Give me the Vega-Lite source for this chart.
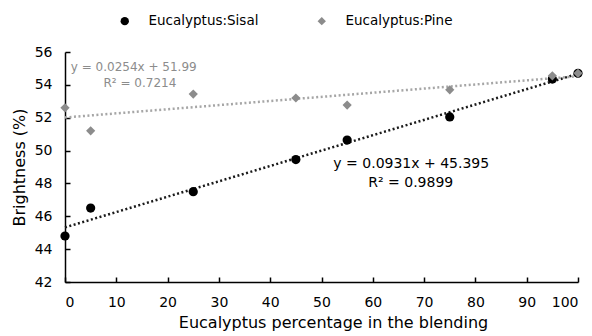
{
  "$schema": "https://vega.github.io/schema/vega-lite/v6.json",
  "width": 513,
  "height": 230,
  "autosize": "none",
  "padding": {"left": 65, "top": 52, "right": 14, "bottom": 54},
  "background": "white",
  "config": {
    "view": {"stroke": null},
    "font": "DejaVu Sans",
    "axis": {
      "grid": false,
      "domainColor": "#000000",
      "domainWidth": 1.5,
      "tickColor": "#000000",
      "tickSize": -5,
      "tickWidth": 1.5,
      "labelFont": "DejaVu Sans",
      "labelFontSize": 14,
      "labelColor": "#000000",
      "labelOverlap": false,
      "labelBound": false,
      "titleFont": "DejaVu Sans",
      "titleFontSize": 16,
      "titleFontWeight": "normal",
      "titleColor": "#000000"
    }
  },
  "resolve": {"scale": {"color": "independent", "shape": "independent", "size": "independent"}},
  "datasets": {
    "points": [
      {"pct": 0, "brightness": 44.8, "blend": "Eucalyptus:Sisal"},
      {"pct": 5, "brightness": 46.5, "blend": "Eucalyptus:Sisal"},
      {"pct": 25, "brightness": 47.5, "blend": "Eucalyptus:Sisal"},
      {"pct": 45, "brightness": 49.45, "blend": "Eucalyptus:Sisal"},
      {"pct": 55, "brightness": 50.64, "blend": "Eucalyptus:Sisal"},
      {"pct": 75, "brightness": 52.05, "blend": "Eucalyptus:Sisal"},
      {"pct": 95, "brightness": 54.35, "blend": "Eucalyptus:Sisal"},
      {"pct": 100, "brightness": 54.7, "blend": "Eucalyptus:Sisal"},
      {"pct": 0, "brightness": 52.6, "blend": "Eucalyptus:Pine"},
      {"pct": 5, "brightness": 51.2, "blend": "Eucalyptus:Pine"},
      {"pct": 25, "brightness": 53.44, "blend": "Eucalyptus:Pine"},
      {"pct": 45, "brightness": 53.2, "blend": "Eucalyptus:Pine"},
      {"pct": 55, "brightness": 52.77, "blend": "Eucalyptus:Pine"},
      {"pct": 75, "brightness": 53.7, "blend": "Eucalyptus:Pine"},
      {"pct": 95, "brightness": 54.55, "blend": "Eucalyptus:Pine"},
      {"pct": 100, "brightness": 54.7, "blend": "Eucalyptus:Pine"}
    ],
    "equations": [
      {"pct": 13.4, "brightness": 55.1, "label": "y = 0.0254x + 51.99", "blend": "Eucalyptus:Pine"},
      {"pct": 14.6, "brightness": 54.1, "label": "R² = 0.7214", "blend": "Eucalyptus:Pine"},
      {"pct": 67.5, "brightness": 49.2, "label": "y = 0.0931x + 45.395", "blend": "Eucalyptus:Sisal"},
      {"pct": 67.4, "brightness": 48.05, "label": "R² = 0.9899", "blend": "Eucalyptus:Sisal"}
    ]
  },
  "encoding": {
    "x": {
      "field": "pct",
      "type": "quantitative",
      "title": "Eucalyptus percentage  in the blending",
      "scale": {"domain": [0, 100], "nice": false},
      "axis": {"values": [0, 10, 20, 30, 40, 50, 60, 70, 80, 90, 100], "labelPadding": 18, "titlePadding": 5, "titleX": 268}
    },
    "y": {
      "field": "brightness",
      "type": "quantitative",
      "title": "Brightness (%)",
      "scale": {"domain": [42, 56], "nice": false, "zero": false},
      "axis": {"values": [42, 44, 46, 48, 50, 52, 54, 56], "labelPadding": 18, "titlePadding": 7}
    }
  },
  "layer": [
    {
      "data": {"name": "points"},
      "transform": [
        {"regression": "brightness", "on": "pct", "groupby": ["blend"], "extent": [0, 100]}
      ],
      "mark": {"type": "line", "strokeDash": [2, 2.5], "strokeWidth": 2.5},
      "encoding": {
        "detail": {"field": "blend"},
        "color": {
          "field": "blend",
          "type": "nominal",
          "scale": {"domain": ["Eucalyptus:Sisal", "Eucalyptus:Pine"], "range": ["#1a1a1a", "#a6a6a6"]},
          "legend": null
        }
      }
    },
    {
      "data": {"name": "points"},
      "mark": {"type": "point", "filled": true, "size": 85, "opacity": 1},
      "encoding": {
        "color": {
          "field": "blend",
          "type": "nominal",
          "scale": {"domain": ["Eucalyptus:Sisal", "Eucalyptus:Pine"], "range": ["#000000", "#8c8c8c"]},
          "legend": {
            "title": null,
            "orient": "none",
            "direction": "horizontal",
            "legendX": 53,
            "legendY": -38,
            "labelFontSize": 13.5,
            "labelFont": "DejaVu Sans",
            "labelColor": "#000000",
            "labelOffset": 17,
            "columnPadding": 56,
            "symbolSize": 70
          }
        },
        "shape": {
          "field": "blend",
          "type": "nominal",
          "scale": {"domain": ["Eucalyptus:Sisal", "Eucalyptus:Pine"], "range": ["circle", "diamond"]},
          "legend": null
        }
      }
    },
    {
      "data": {"name": "equations"},
      "mark": {"type": "text", "font": "DejaVu Sans", "align": "center", "baseline": "middle"},
      "encoding": {
        "text": {"field": "label"},
        "size": {
          "field": "blend",
          "type": "nominal",
          "scale": {"domain": ["Eucalyptus:Sisal", "Eucalyptus:Pine"], "range": [14, 12]},
          "legend": null
        },
        "color": {
          "field": "blend",
          "type": "nominal",
          "scale": {"domain": ["Eucalyptus:Sisal", "Eucalyptus:Pine"], "range": ["#000000", "#8c8c8c"]},
          "legend": null
        }
      }
    }
  ]
}
